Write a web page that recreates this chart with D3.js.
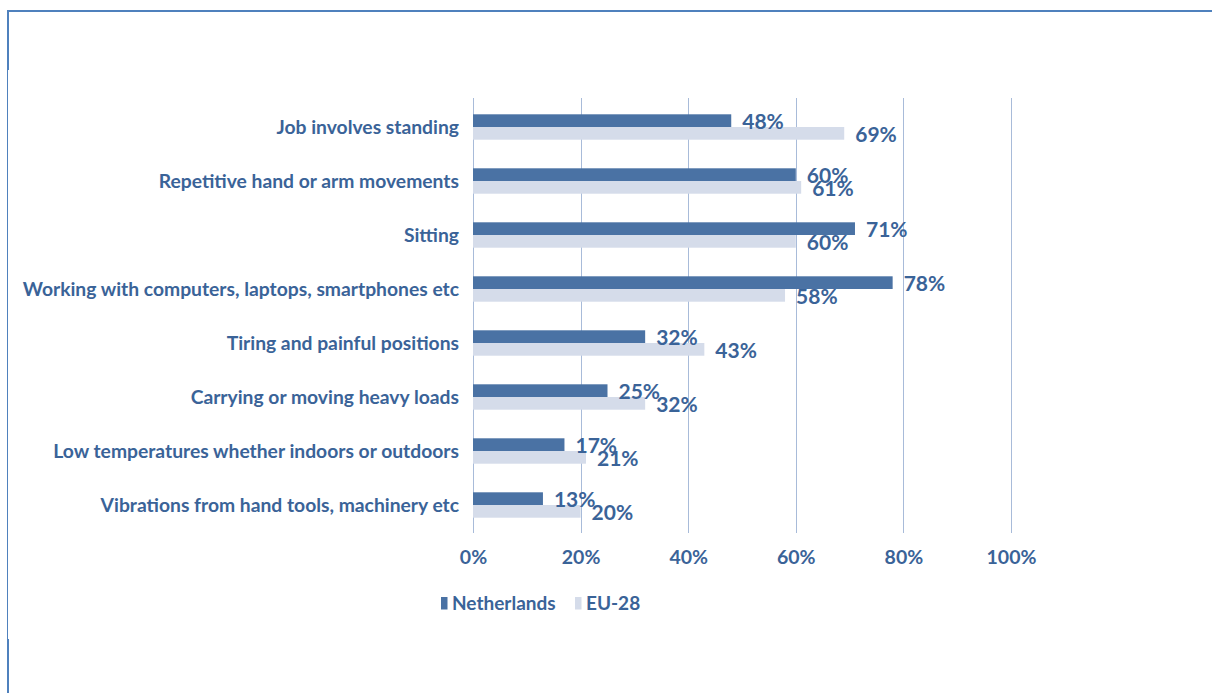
<!DOCTYPE html>
<html>
<head>
<meta charset="utf-8">
<script src="https://cdn.jsdelivr.net/npm/d3@7"></script>
<style>
  html, body { margin: 0; padding: 0; background: #fff; }
  svg { display: block; }
  text { font-family: Lato, "Noto Sans", sans-serif; font-weight: bold; fill: #3a6398; }
</style>
</head>
<body>
<svg id="chart" width="1212" height="693"></svg>
<script>
// Physical risk factors at work: Netherlands vs EU-28 (% of workers)
const categories = [
  "Job involves standing",
  "Repetitive hand or arm movements",
  "Sitting",
  "Working with computers, laptops, smartphones etc",
  "Tiring and painful positions",
  "Carrying or moving heavy loads",
  "Low temperatures whether indoors or outdoors",
  "Vibrations from hand tools, machinery etc"
];
const netherlands = [48, 60, 71, 78, 32, 25, 17, 13];
const eu28 = [69, 61, 60, 58, 43, 32, 21, 20];
const seriesNames = ["Netherlands", "EU-28"];
const tickValues = [0, 20, 40, 60, 80, 100];

const colors = { nl: "#4a72a4", eu: "#d5dcea", grid: "#a8bbd9", frame: "#4f81bd" };

const svg = d3.select("#chart");

// page frame: top rule and left rule (heavier at the ends)
svg.append("line").attr("x1", 7).attr("x2", 1212).attr("y1", 11).attr("y2", 11)
  .attr("stroke", colors.frame).attr("stroke-width", 2);
svg.append("line").attr("x1", 8).attr("x2", 8).attr("y1", 10).attr("y2", 70)
  .attr("stroke", colors.frame).attr("stroke-width", 2);
svg.append("line").attr("x1", 7.5).attr("x2", 7.5).attr("y1", 70).attr("y2", 640)
  .attr("stroke", colors.frame).attr("stroke-width", 1);
svg.append("line").attr("x1", 8).attr("x2", 8).attr("y1", 639).attr("y2", 693)
  .attr("stroke", colors.frame).attr("stroke-width", 2);

const x = d3.scaleLinear().domain([0, 100]).range([473, 1011]);
const y = d3.scaleBand().domain(categories).range([100, 532]);
const barH = 12.7;

// vertical gridlines
svg.append("g").selectAll("line").data(tickValues).join("line")
  .attr("x1", d => Math.round(x(d)) + 0.5).attr("x2", d => Math.round(x(d)) + 0.5)
  .attr("y1", 98).attr("y2", 533)
  .attr("stroke", colors.grid).attr("stroke-width", 1);

// x axis tick labels
const xAxis = d3.axisBottom(x).tickValues(tickValues).tickFormat(d => d + "%").tickSize(0).tickPadding(0);
const gx = svg.append("g").attr("transform", "translate(0,557.5)").call(xAxis);
gx.select(".domain").remove();
gx.selectAll("text").attr("font-size", 19.5).attr("fill", "#3a6398")
  .attr("font-family", null).attr("dy", "0.35em").attr("y", 0);

const cy = d => y(d) + y.bandwidth() / 2;

// bars
const rows = categories.map((c, i) => ({ c, nl: netherlands[i], eu: eu28[i] }));
svg.append("g").selectAll("rect").data(rows).join("rect")
  .attr("x", x(0)).attr("y", d => cy(d.c) - barH)
  .attr("width", d => x(d.nl) - x(0)).attr("height", barH)
  .attr("fill", colors.nl);
svg.append("g").selectAll("rect").data(rows).join("rect")
  .attr("x", x(0)).attr("y", d => cy(d.c))
  .attr("width", d => x(d.eu) - x(0)).attr("height", barH)
  .attr("fill", colors.eu);

// value labels
svg.append("g").selectAll("text").data(rows).join("text")
  .attr("x", d => x(d.nl) + 11).attr("y", d => cy(d.c) - 5)
  .attr("dy", "0.35em").attr("font-size", 21).text(d => d.nl + "%");
svg.append("g").selectAll("text").data(rows).join("text")
  .attr("x", d => x(d.eu) + 11).attr("y", d => cy(d.c) + 8)
  .attr("dy", "0.35em").attr("font-size", 21).text(d => d.eu + "%");

// category labels
svg.append("g").selectAll("text").data(categories).join("text")
  .attr("x", 459).attr("y", d => cy(d)).attr("dy", "0.35em")
  .attr("text-anchor", "end").attr("font-size", 19.3).text(d => d);

// legend
const legend = svg.append("g");
const legendX = [441, 575];
seriesNames.forEach((name, i) => {
  legend.append("rect").attr("x", legendX[i]).attr("y", 597).attr("width", 6.5).attr("height", 12.5)
    .attr("fill", i === 0 ? colors.nl : colors.eu);
  legend.append("text").attr("x", legendX[i] + 11).attr("y", 603).attr("dy", "0.35em")
    .attr("font-size", 19).text(name);
});
</script>
</body>
</html>
